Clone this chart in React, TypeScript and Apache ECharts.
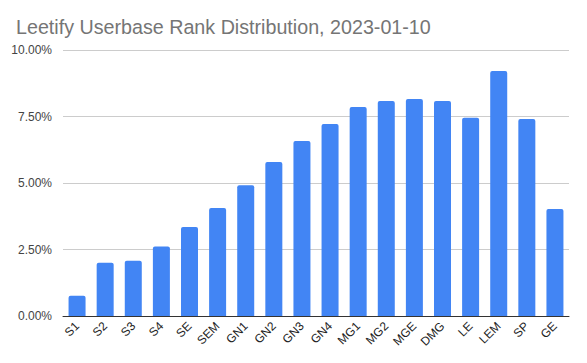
import React, { useEffect, useRef } from "react";
import * as echarts from "echarts";

const categories = ["S1", "S2", "S3", "S4", "SE", "SEM", "GN1", "GN2", "GN3", "GN4", "MG1", "MG2", "MGE", "DMG", "LE", "LEM", "SP", "GE"];
const shares = [0.76, 2.0, 2.08, 2.61, 3.35, 4.06, 4.92, 5.79, 6.58, 7.22, 7.86, 8.08, 8.16, 8.08, 7.45, 9.21, 7.41, 4.02];
const titleText = "Leetify Userbase Rank Distribution, 2023-01-10";

export default function App() {
  const ref = useRef<HTMLDivElement>(null);
  useEffect(() => {
    if (!ref.current) return;
    const chart = echarts.init(ref.current, null, { renderer: "svg" });
    const font = "Arial, 'Liberation Sans', sans-serif";
    chart.setOption({
      animation: false,
      backgroundColor: "#ffffff",
      title: {
        text: titleText,
        left: 11,
        top: 12,
        textStyle: { fontFamily: font, fontSize: 19.7, fontWeight: "normal", color: "#757575" },
      },
      grid: { left: 63, right: 18, top: 50, bottom: 47 },
      xAxis: {
        type: "category",
        data: categories,
        axisTick: { show: false },
        axisLine: { lineStyle: { color: "#333333", width: 1 } },
        axisLabel: {
          rotate: 45,
          interval: 0,
          hideOverlap: false,
          margin: 8,
          fontFamily: font,
          fontSize: 12,
          color: "#222222",
        },
      },
      yAxis: {
        type: "value",
        min: 0,
        max: 10,
        interval: 2.5,
        axisLabel: {
          formatter: (v: number) => `${v.toFixed(2)}%`,
          fontFamily: font,
          fontSize: 12,
          color: "#444444",
          margin: 11,
        },
        splitLine: { lineStyle: { color: "#cccccc", width: 1 } },
        axisLine: { show: false },
        axisTick: { show: false },
      },
      series: [
        {
          type: "bar",
          data: shares,
          barWidth: 17,
          itemStyle: { color: "#4285F4", borderRadius: [2, 2, 0, 0] },
        },
      ],
    });
    return () => chart.dispose();
  }, []);
  return <div ref={ref} style={{ width: 587, height: 363, position: "absolute", left: 0, top: 0 }} />;
}
